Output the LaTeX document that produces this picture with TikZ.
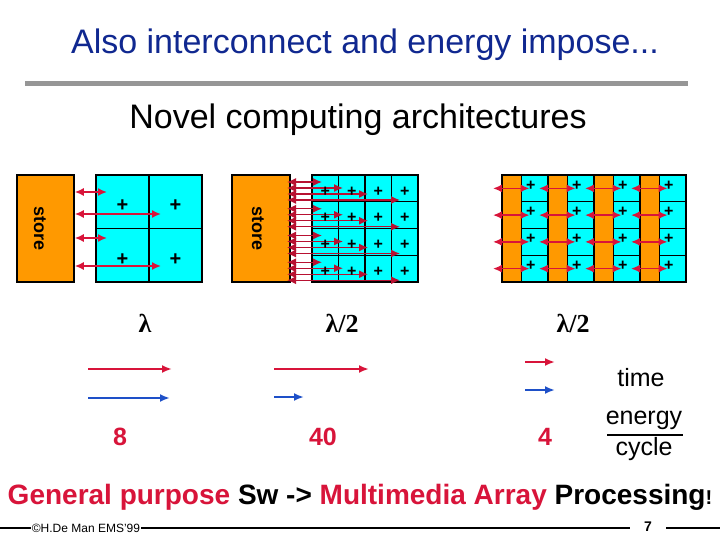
\documentclass[tikz,border=0pt]{standalone}
\usepackage{fontspec}
\setmainfont{Liberation Sans}
\newfontfamily\greekfont{Liberation Serif}
\usetikzlibrary{arrows.meta}

\begin{document}
\begin{tikzpicture}[>={Latex[length=8pt, width=7pt]}, x=1pt, y=-1pt]

\definecolor{storeorange}{RGB}{255, 153, 0}
\definecolor{cellcyan}{RGB}{0, 255, 255}
\definecolor{linkred}{RGB}{216, 20, 58}
\definecolor{titleblue}{RGB}{16, 40, 144}
\definecolor{timeblue}{RGB}{30, 80, 200}
\definecolor{rulegray}{RGB}{150, 150, 150}

% Page
\useasboundingbox (0,0) rectangle (720,540);
\fill[white] (0,0) rectangle (720,540);

\tikzset{
    store block/.style={
        draw=black, line width=1.5pt, fill=storeorange,
        rectangle, inner sep=0pt,
        minimum width=#1, minimum height=107pt
    },
    cell/.style={
        draw=black, line width=1.5pt, fill=cellcyan,
        rectangle, inner sep=0pt
    },
    store label/.style={
        rotate=-90, inner sep=0pt,
        font=\bfseries\fontsize{18}{18}\selectfont
    },
    plus sign/.style={
        inner sep=0pt, font=\bfseries\fontsize{#1}{#1}\selectfont
    },
    link/.style={
        {Latex[length=9pt, width=8pt]}-{Latex[length=9pt, width=8pt]},
        draw=linkred, line width=#1
    },
    cycle arrow/.style={
        -{Latex[length=10pt, width=8pt]}, draw=#1, line width=2pt
    },
    big text/.style={
        inner sep=0pt, font=\fontsize{#1}{#1}\selectfont
    },
    bold text/.style={
        inner sep=0pt, font=\bfseries\fontsize{#1}{#1}\selectfont
    },
    lambda text/.style={
        inner sep=0pt, font=\greekfont\bfseries\fontsize{26}{26}\selectfont
    }
}

% Titles
\node[big text=34, text=titleblue] (Title) at (365, 45) {Also interconnect and energy impose...};
\draw[rulegray, line width=5pt] (25,84) -- (688,84);
\node[big text=34] (Sub) at (358, 120) {Novel computing architectures};

% --- GENERAL PURPOSE: one store, 2x2 array ---
\node[store block=57pt] (LS) at (45.5, 228.5) {};
\node[store label] (LSlabel) at (40, 228.5) {store};
\foreach \r in {1,2}
  \foreach \c in {1,2}
    \node[cell, minimum width=53pt, minimum height=53.5pt] (L\r\c) at ({69.5+53*\c}, {148.25+53.5*\r}) {};
\foreach \y/\xe in {192/107, 214/161, 238/107, 266/161}
  \draw[link=1.6pt] (LS.east |- 0,\y) -- (\xe,\y);
\foreach \r in {1,2}
  \foreach \c in {1,2}
    \node[plus sign=20] (LP\r\c) at ([yshift=-4pt]L\r\c.center) {+};

% --- MULTIMEDIA: one store, 4x4 array ---
\node[store block=58pt] (MS) at (261, 228.5) {};
\node[store label] (MSlabel) at (258, 228.5) {store};
\foreach \r in {1,...,4}
  \foreach \c in {1,...,4}
    \node[cell, minimum width=26.5pt, minimum height=26.75pt] (M\r\c) at ({298.75+26.5*\c}, {161.625+26.75*\r}) {};
\foreach \r in {1,...,4}
  \foreach \k/\xe in {7/322, 13/343, 19/368, 25/400} {
    \pgfmathsetmacro\yy{148.25+26.75*\r+\k}
    \draw[link=1.4pt, draw=linkred!85!black] (287,\yy) -- (\xe,\yy);
  }
\foreach \r in {1,...,4}
  \foreach \c in {1,...,4}
    \node[plus sign=16] (MP\r\c) at ([yshift=-3pt]M\r\c.center) {+};

% --- ARRAY: distributed stores ---
\foreach \k in {1,...,4} {
  \node[store block=19.5pt] (RB\k) at ({465.75+46*\k}, 228.5) {};
  \foreach \r in {1,...,4}
    \node[cell, minimum width=26.5pt, minimum height=26.75pt] (R\r\k) at ({488.75+46*\k}, {161.625+26.75*\r}) {};
}
\foreach \k in {1,...,4}
  \foreach \r in {1,...,4} {
    \pgfmathsetmacro\yy{161.625+26.75*\r}
    \draw[link=1.6pt] ({447+46*\k},\yy) -- ({483.5+46*\k},\yy);
    \node[plus sign=16] (RP\r\k) at ([xshift=10pt, yshift=3pt]R\r\k.west) {+};
  }

% Wire lengths
\node[lambda text] (LamA) at (145, 323) {λ};
\node[lambda text] (LamB) at (342, 323) {λ/2};
\node[lambda text] (LamC) at (573, 323) {λ/2};

% Time and energy per cycle
\coordinate (gpR) at (88, 369);
\coordinate (gpB) at (88, 398);
\coordinate (mmR) at (274, 369);
\coordinate (mmB) at (274, 397);
\coordinate (arR) at (525, 362);
\coordinate (arB) at (525, 390);
\draw[cycle arrow=linkred] (gpR) -- ++(84,0);
\draw[cycle arrow=timeblue] (gpB) -- ++(82,0);
\draw[cycle arrow=linkred] (mmR) -- ++(95,0);
\draw[cycle arrow=timeblue] (mmB) -- ++(30,0);
\draw[cycle arrow=linkred] (arR) -- ++(30,0);
\draw[cycle arrow=timeblue] (arB) -- ++(30,0);

\node[big text=25] (Time) at (641, 378) {time};
\node[big text=25] (Energy) at (644, 420) {energy};
\node[big text=25] (Cycle) at (644, 449) {cycle};
\draw[line width=1.5pt] (607,435) -- (683,435);

\node[bold text=25, text=linkred] (NumA) at (120, 437) {8};
\node[bold text=25, text=linkred] (NumB) at (323, 437) {40};
\node[bold text=25, text=linkred] (NumC) at (545, 437) {4};

% Conclusion
\node[bold text=28] (Concl) at (360, 497)
  {\textcolor{linkred}{General purpose} Sw -> \textcolor{linkred}{Multimedia Array} Processing{\fontsize{20}{20}\selectfont !}};

% Footer
\draw[line width=1.5pt] (0,528) -- (720,528);
\node[fill=white, inner xsep=1pt, inner ysep=2pt, font=\fontsize{12}{12}\selectfont] (Credit) at (86, 528) {\textcopyright H.De Man EMS'99};
\node[fill=white, inner xsep=14pt, inner ysep=2pt, font=\bfseries\fontsize{14}{14}\selectfont] (Page) at (648, 527) {7};

\end{tikzpicture}
\end{document}
